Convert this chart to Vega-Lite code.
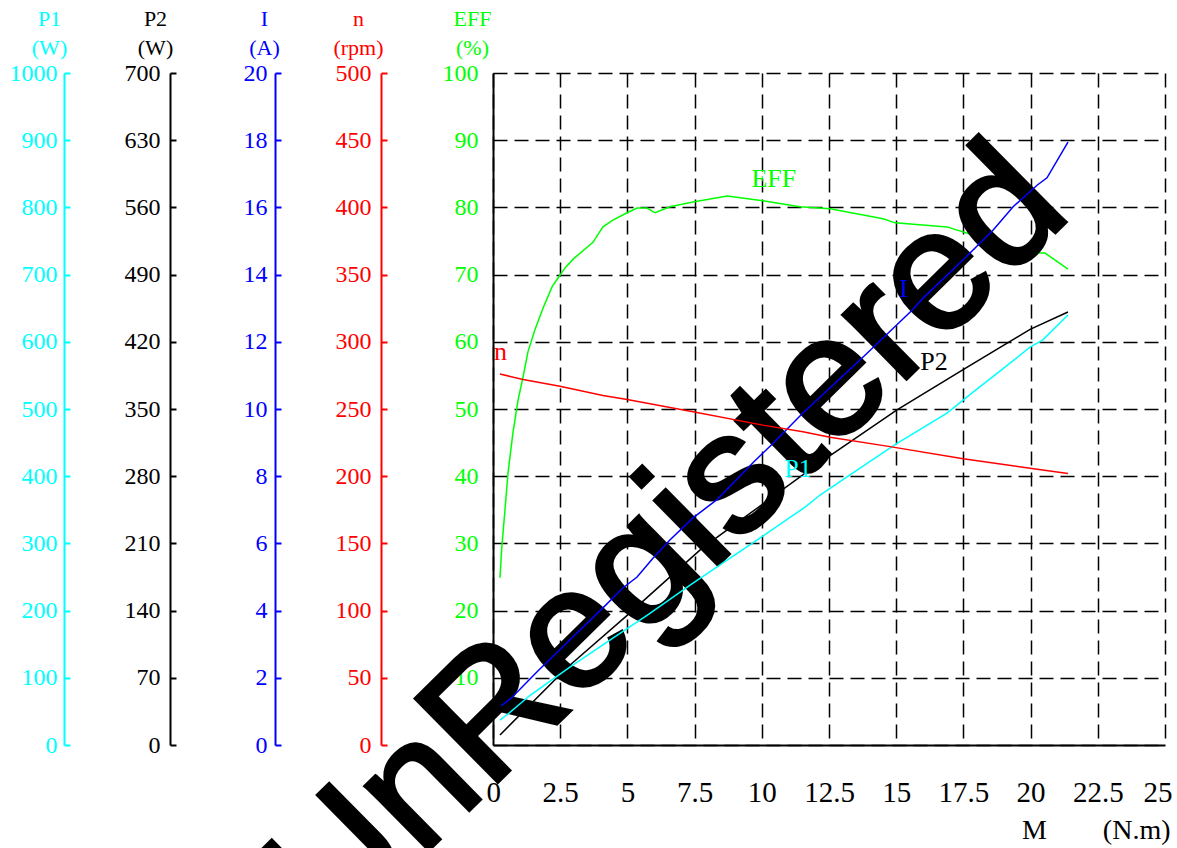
{
  "$schema": "https://vega.github.io/schema/vega-lite/v6.json",
  "width": 672,
  "height": 672,
  "autosize": {"type": "none"},
  "padding": {"left": 493, "top": 73, "right": 12, "bottom": 103},
  "background": "white",
  "config": {
    "view": {"stroke": null},
    "font": "Liberation Serif",
    "axis": {"labelFont": "Liberation Serif", "titleFont": "Liberation Serif", "titleFontWeight": "normal", "labelOverlap": false, "labelFlush": false}
  },
  "datasets": {
    "eff": [
      {"M": 0.26, "EFF": 24.9}, {"M": 0.32, "EFF": 29}, {"M": 0.56, "EFF": 40.5}, {"M": 0.74, "EFF": 46.4},
      {"M": 0.93, "EFF": 51.3}, {"M": 1.12, "EFF": 54.8}, {"M": 1.30, "EFF": 58.5}, {"M": 1.56, "EFF": 61.8},
      {"M": 1.86, "EFF": 65}, {"M": 2.20, "EFF": 68.2}, {"M": 2.42, "EFF": 69.5}, {"M": 2.68, "EFF": 71},
      {"M": 2.98, "EFF": 72.3}, {"M": 3.72, "EFF": 74.8}, {"M": 4.09, "EFF": 77.1}, {"M": 4.46, "EFF": 78.1},
      {"M": 4.99, "EFF": 79.2}, {"M": 5.36, "EFF": 79.9}, {"M": 5.73, "EFF": 79.9}, {"M": 6.03, "EFF": 79.2},
      {"M": 6.58, "EFF": 80.1}, {"M": 7.44, "EFF": 80.8}, {"M": 8.71, "EFF": 81.7}, {"M": 10.04, "EFF": 81.0},
      {"M": 11.42, "EFF": 80.1}, {"M": 12.54, "EFF": 79.8}, {"M": 14.51, "EFF": 78.3}, {"M": 14.96, "EFF": 77.7},
      {"M": 16.89, "EFF": 77.1}, {"M": 17.86, "EFF": 75.9}, {"M": 19.98, "EFF": 73.2}, {"M": 20.54, "EFF": 73.2},
      {"M": 21.39, "EFF": 70.8}
    ],
    "cur": [
      {"M": 0.30, "I": 1.16}, {"M": 0.71, "I": 1.42}, {"M": 1.64, "I": 2.18}, {"M": 2.98, "I": 3.22},
      {"M": 4.09, "I": 4.08}, {"M": 4.84, "I": 4.68}, {"M": 5.36, "I": 5.0}, {"M": 5.95, "I": 5.56},
      {"M": 6.58, "I": 6.1}, {"M": 7.44, "I": 6.76}, {"M": 8.33, "I": 7.3}, {"M": 9.67, "I": 8.4},
      {"M": 10.42, "I": 8.98}, {"M": 11.53, "I": 9.88}, {"M": 13.76, "I": 11.54}, {"M": 15.59, "I": 12.94},
      {"M": 16.0, "I": 13.3}, {"M": 17.49, "I": 14.44}, {"M": 18.6, "I": 15.32}, {"M": 19.35, "I": 16.02},
      {"M": 20.24, "I": 16.66}, {"M": 20.61, "I": 16.88}, {"M": 21.39, "I": 17.94}
    ],
    "p2": [
      {"M": 0.26, "P2": 10.5}, {"M": 2.75, "P2": 80.5}, {"M": 4.99, "P2": 135}, {"M": 6.66, "P2": 177},
      {"M": 7.78, "P2": 205}, {"M": 12.05, "P2": 292}, {"M": 15.03, "P2": 349}, {"M": 17.49, "P2": 391},
      {"M": 19.98, "P2": 433}, {"M": 21.39, "P2": 451}
    ],
    "p1": [
      {"M": 0.26, "P1": 37}, {"M": 0.52, "P1": 45}, {"M": 1.38, "P1": 74}, {"M": 2.86, "P1": 116},
      {"M": 4.46, "P1": 159}, {"M": 5.73, "P1": 193}, {"M": 7.44, "P1": 241}, {"M": 8.71, "P1": 275},
      {"M": 9.82, "P1": 305}, {"M": 11.61, "P1": 354}, {"M": 12.17, "P1": 372}, {"M": 13.28, "P1": 402},
      {"M": 15.03, "P1": 449}, {"M": 16.89, "P1": 494}, {"M": 17.86, "P1": 525}, {"M": 19.13, "P1": 565},
      {"M": 19.98, "P1": 592}, {"M": 20.46, "P1": 603}, {"M": 21.39, "P1": 640}
    ],
    "speed": [
      {"M": 0.26, "n": 276}, {"M": 1.12, "n": 272}, {"M": 2.49, "n": 267}, {"M": 4.09, "n": 260},
      {"M": 4.99, "n": 257}, {"M": 7.44, "n": 248}, {"M": 10.04, "n": 238}, {"M": 11.53, "n": 233},
      {"M": 12.54, "n": 229}, {"M": 14.77, "n": 222}, {"M": 17.49, "n": 213}, {"M": 19.98, "n": 206},
      {"M": 21.39, "n": 202}
    ],
    "labels": [
      {"M": 10.45, "pct": 83.0, "label": "EFF"},
      {"M": 15.27, "pct": 66.7, "label": "I"},
      {"M": 16.41, "pct": 55.8, "label": "P2"},
      {"M": 11.35, "pct": 39.9, "label": "P1"},
      {"M": 0.28, "pct": 57.3, "label": "n"}
    ],
    "mark": [
      {"M": 7.82, "pct": 24.67, "text": "UnRegistered"}
    ]
  },
  "layer": [
    {
      "data": {"name": "eff"},
      "mark": {"type": "line", "color": "#00FF00", "strokeWidth": 1.5},
      "encoding": {
        "x": {
          "field": "M", "type": "quantitative",
          "scale": {"domain": [0, 25], "nice": false},
          "axis": {
            "orient": "bottom",
            "values": [0, 2.5, 5, 7.5, 10, 12.5, 15, 17.5, 20, 22.5, 25],
            "format": ".1~f",
            "ticks": false,
            "labelFont": "Liberation Serif",
            "labelFontSize": 29, "labelColor": "black", "labelPadding": 33,
            "labelFlush": true, "labelFlushOffset": 7,
            "domainColor": "black", "domainWidth": 2,
            "grid": true, "gridColor": "black", "gridDash": [14, 7], "gridWidth": 1.5, "gridOpacity": 1,
            "title": "M\u00a0\u00a0\u00a0\u00a0\u00a0\u00a0\u00a0\u00a0(N.m)",
            "titleFont": "Liberation Serif",
            "titleFontSize": 28, "titleColor": "black",
            "titleX": 677, "titleY": 93, "titleAlign": "right", "titleBaseline": "alphabetic"
          }
        },
        "y": {
          "field": "EFF", "type": "quantitative",
          "scale": {"domain": [0, 100], "nice": false},
          "axis": {
            "orient": "left", "offset": 0,
            "values": [0, 10, 20, 30, 40, 50, 60, 70, 80, 90, 100],
            "format": "d",
            "ticks": false,
            "labelFont": "Liberation Serif",
            "labelColor": "#00FF00", "labelFontSize": 24, "labelPadding": 15,
            "domainColor": "black", "domainWidth": 2,
            "grid": true, "gridColor": "black", "gridDash": [14, 7], "gridWidth": 1.5, "gridOpacity": 1,
            "title": ["EFF", "(%)"], "titleFont": "Liberation Serif", "titleColor": "#00FF00", "titleFontSize": 22,
            "titleAngle": 0, "titleX": -21, "titleY": -48, "titleAlign": "center",
            "titleBaseline": "alphabetic", "titleLineHeight": 29
          }
        }
      }
    },
    {
      "data": {"name": "mark"},
      "mark": {"type": "text", "font": "Liberation Sans", "fontSize": 170, "angle": 315.4, "align": "center", "baseline": "alphabetic", "color": "black", "stroke": "black", "strokeWidth": 4},
      "encoding": {
        "x": {"field": "M", "type": "quantitative", "scale": {"domain": [0, 25], "nice": false}},
        "y": {"field": "pct", "type": "quantitative", "scale": {"domain": [0, 100], "nice": false}, "axis": null},
        "text": {"field": "text"}
      }
    },
    {
      "data": {"name": "cur"},
      "mark": {"type": "line", "color": "#0000FF", "strokeWidth": 1.5},
      "encoding": {
        "x": {"field": "M", "type": "quantitative", "scale": {"domain": [0, 25], "nice": false}},
        "y": {
          "field": "I", "type": "quantitative",
          "scale": {"domain": [0, 20], "nice": false},
          "axis": {
            "orient": "left", "offset": 218,
            "values": [0, 2, 4, 6, 8, 10, 12, 14, 16, 18, 20],
            "format": "d",
            "ticks": true, "tickSize": -6, "tickColor": "#0000FF", "tickWidth": 2,
            "labelFont": "Liberation Serif",
            "labelColor": "#0000FF", "labelFontSize": 24, "labelPadding": 14,
            "domainColor": "#0000FF", "domainWidth": 2, "grid": false,
            "title": ["I", "(A)"], "titleFont": "Liberation Serif", "titleColor": "#0000FF", "titleFontSize": 22,
            "titleAngle": 0, "titleX": -11, "titleY": -48, "titleAlign": "center",
            "titleBaseline": "alphabetic", "titleLineHeight": 29
          }
        }
      }
    },
    {
      "data": {"name": "p2"},
      "mark": {"type": "line", "color": "#000000", "strokeWidth": 1.5},
      "encoding": {
        "x": {"field": "M", "type": "quantitative", "scale": {"domain": [0, 25], "nice": false}},
        "y": {
          "field": "P2", "type": "quantitative",
          "scale": {"domain": [0, 700], "nice": false},
          "axis": {
            "orient": "left", "offset": 323,
            "values": [0, 70, 140, 210, 280, 350, 420, 490, 560, 630, 700],
            "format": "d",
            "ticks": true, "tickSize": -6, "tickColor": "#000000", "tickWidth": 2,
            "labelFont": "Liberation Serif",
            "labelColor": "#000000", "labelFontSize": 24, "labelPadding": 16,
            "domainColor": "#000000", "domainWidth": 2, "grid": false,
            "title": ["P2", "(W)"], "titleFont": "Liberation Serif", "titleColor": "#000000", "titleFontSize": 22,
            "titleAngle": 0, "titleX": -15, "titleY": -48, "titleAlign": "center",
            "titleBaseline": "alphabetic", "titleLineHeight": 29
          }
        }
      }
    },
    {
      "data": {"name": "p1"},
      "mark": {"type": "line", "color": "#00FFFF", "strokeWidth": 1.5},
      "encoding": {
        "x": {"field": "M", "type": "quantitative", "scale": {"domain": [0, 25], "nice": false}},
        "y": {
          "field": "P1", "type": "quantitative",
          "scale": {"domain": [0, 1000], "nice": false},
          "axis": {
            "orient": "left", "offset": 429,
            "values": [0, 100, 200, 300, 400, 500, 600, 700, 800, 900, 1000],
            "format": "d",
            "ticks": true, "tickSize": -6, "tickColor": "#00FFFF", "tickWidth": 2,
            "labelFont": "Liberation Serif",
            "labelColor": "#00FFFF", "labelFontSize": 24, "labelPadding": 13,
            "domainColor": "#00FFFF", "domainWidth": 2, "grid": false,
            "title": ["P1", "(W)"], "titleFont": "Liberation Serif", "titleColor": "#00FFFF", "titleFontSize": 22,
            "titleAngle": 0, "titleX": -15, "titleY": -48, "titleAlign": "center",
            "titleBaseline": "alphabetic", "titleLineHeight": 29
          }
        }
      }
    },
    {
      "data": {"name": "speed"},
      "mark": {"type": "line", "color": "#FF0000", "strokeWidth": 1.5},
      "encoding": {
        "x": {"field": "M", "type": "quantitative", "scale": {"domain": [0, 25], "nice": false}},
        "y": {
          "field": "n", "type": "quantitative",
          "scale": {"domain": [0, 500], "nice": false},
          "axis": {
            "orient": "left", "offset": 112,
            "values": [0, 50, 100, 150, 200, 250, 300, 350, 400, 450, 500],
            "format": "d",
            "ticks": true, "tickSize": -6, "tickColor": "#FF0000", "tickWidth": 2,
            "labelFont": "Liberation Serif",
            "labelColor": "#FF0000", "labelFontSize": 24, "labelPadding": 16,
            "domainColor": "#FF0000", "domainWidth": 2, "grid": false,
            "title": ["n", "(rpm)"], "titleFont": "Liberation Serif", "titleColor": "#FF0000", "titleFontSize": 22,
            "titleAngle": 0, "titleX": -23, "titleY": -48, "titleAlign": "center",
            "titleBaseline": "alphabetic", "titleLineHeight": 29
          }
        }
      }
    },
    {
      "data": {"name": "labels"},
      "mark": {"type": "text", "font": "Liberation Serif", "fontSize": 26, "align": "center", "baseline": "alphabetic"},
      "encoding": {
        "x": {"field": "M", "type": "quantitative", "scale": {"domain": [0, 25], "nice": false}},
        "y": {"field": "pct", "type": "quantitative", "scale": {"domain": [0, 100], "nice": false}, "axis": null},
        "text": {"field": "label"},
        "color": {
          "field": "label", "type": "nominal",
          "scale": {"domain": ["EFF", "I", "P2", "P1", "n"], "range": ["#00FF00", "#0000FF", "#000000", "#00FFFF", "#FF0000"]},
          "legend": null
        }
      }
    }
  ],
  "resolve": {"scale": {"y": "independent", "color": "independent"}}
}
